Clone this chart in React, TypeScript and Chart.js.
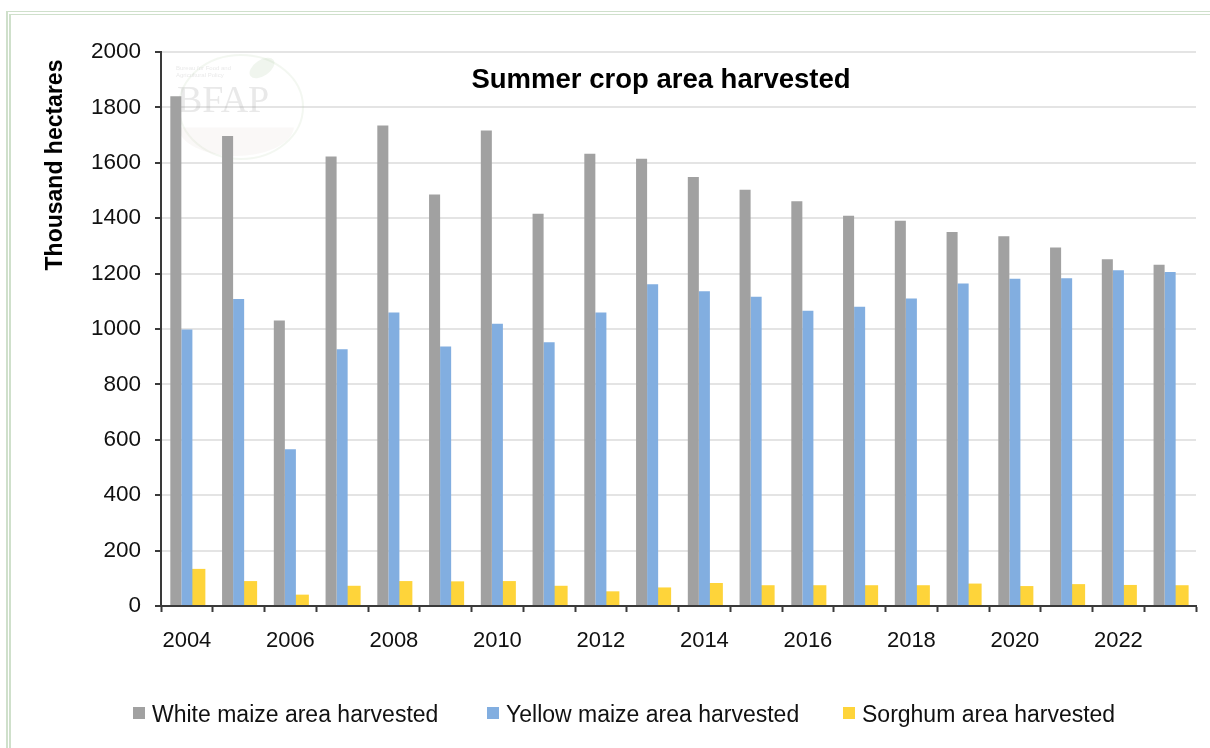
import React, { useEffect, useRef } from 'react';
import { Chart, registerables } from 'chart.js';

Chart.register(...registerables);

const years = ['2004', '2005', '2006', '2007', '2008', '2009', '2010', '2011', '2012', '2013', '2014', '2015', '2016', '2017', '2018', '2019', '2020', '2021', '2022', '2023'];
const whiteMaize = [1840, 1697, 1031, 1623, 1735, 1486, 1717, 1416, 1633, 1615, 1549, 1503, 1461, 1409, 1391, 1350, 1335, 1294, 1252, 1232];
const yellowMaize = [998, 1108, 566, 927, 1060, 937, 1019, 952, 1060, 1162, 1136, 1116, 1066, 1080, 1110, 1164, 1181, 1183, 1212, 1206];
const sorghum = [134, 90, 41, 73, 90, 89, 90, 73, 53, 67, 83, 75, 75, 75, 75, 81, 72, 79, 76, 75];

const seriesNames = ['White maize area harvested', 'Yellow maize area harvested', 'Sorghum area harvested'];
const seriesColors = ['#a1a1a1', '#82aee0', '#fed43a'];
const chartTitle = 'Summer crop area harvested';
const yAxisTitle = 'Thousand hectares';

const FONT = '"Liberation Sans", Arial, Helvetica, sans-serif';

const overlayPlugin = {
  id: 'overlay',
  beforeDatasetsDraw(chart: any) {
    const ctx = chart.ctx as CanvasRenderingContext2D;
    ctx.save();
    // faint watermark logo
    ctx.beginPath();
    ctx.ellipse(241, 107, 62, 52, 0, 0, Math.PI * 2);
    ctx.strokeStyle = 'rgba(200, 220, 190, 0.22)';
    ctx.lineWidth = 2;
    ctx.stroke();
    ctx.beginPath();
    ctx.ellipse(236, 126, 58, 30, 0, 0.05, Math.PI - 0.05);
    ctx.fillStyle = 'rgba(205, 195, 180, 0.11)';
    ctx.fill();
    ctx.beginPath();
    ctx.ellipse(262, 68, 14, 8, -0.6, 0, Math.PI * 2);
    ctx.fillStyle = 'rgba(160, 195, 150, 0.16)';
    ctx.fill();
    ctx.fillStyle = 'rgba(170, 170, 170, 0.26)';
    ctx.font = '38px "Liberation Serif", "DejaVu Serif", serif';
    ctx.textAlign = 'left';
    ctx.textBaseline = 'alphabetic';
    ctx.fillText('BFAP', 177, 112);
    ctx.font = '6px ' + FONT;
    ctx.fillText('Bureau for Food and', 176, 70);
    ctx.fillText('Agricultural Policy', 176, 77);
    ctx.restore();
  },
  afterDraw(chart: any) {
    const ctx = chart.ctx as CanvasRenderingContext2D;
    ctx.save();
    // title
    ctx.fillStyle = '#000';
    ctx.font = 'bold 27.5px ' + FONT;
    ctx.textAlign = 'center';
    ctx.textBaseline = 'middle';
    ctx.fillText(chartTitle, 661, 80);
    // y axis title
    ctx.save();
    ctx.translate(56, 165);
    ctx.rotate(-Math.PI / 2);
    ctx.font = 'bold 23px ' + FONT;
    ctx.fillText(yAxisTitle, 0, 0);
    ctx.restore();
    // legend
    const textX = [152, 506, 862];
    ctx.font = '23px ' + FONT;
    ctx.textAlign = 'left';
    ctx.textBaseline = 'middle';
    seriesNames.forEach((name, i) => {
      ctx.fillStyle = seriesColors[i];
      ctx.fillRect(textX[i] - 19, 707, 12, 12);
      ctx.fillStyle = '#111';
      ctx.fillText(name, textX[i], 716);
    });
    ctx.restore();
  },
};

export default function App() {
  const canvasRef = useRef<HTMLCanvasElement | null>(null);

  useEffect(() => {
    if (!canvasRef.current) return;
    const chart = new Chart(canvasRef.current, {
      type: 'bar',
      data: {
        labels: years,
        datasets: [
          { label: seriesNames[0], data: whiteMaize, backgroundColor: seriesColors[0], barPercentage: 1.0, categoryPercentage: 0.64 },
          { label: seriesNames[1], data: yellowMaize, backgroundColor: seriesColors[1], barPercentage: 1.0, categoryPercentage: 0.64 },
          { label: seriesNames[2], data: sorghum, backgroundColor: seriesColors[2], barPercentage: 1.35, categoryPercentage: 0.64 },
        ],
      },
      options: {
        responsive: false,
        animation: false,
        layout: { autoPadding: false, padding: { top: 52, right: 14, left: 0, bottom: 0 } },
        plugins: {
          legend: { display: false },
          title: { display: false },
          tooltip: { enabled: false },
        },
        scales: {
          x: {
            offset: true,
            grid: { display: true, drawOnChartArea: false, drawTicks: true, tickLength: 6, tickColor: '#3a3a3a', tickWidth: 2, offset: true },
            border: { display: true, color: '#3a3a3a', width: 2 },
            ticks: {
              autoSkip: false,
              maxRotation: 0,
              minRotation: 0,
              padding: 16,
              color: '#111',
              font: { family: FONT, size: 22 },
              callback: (_v: any, i: number) => (i % 2 === 0 ? years[i] : ''),
            },
            afterFit: (s: any) => { s.height = 142; },
          },
          y: {
            min: 0,
            max: 2000,
            ticks: { stepSize: 200, padding: 14, color: '#111', font: { family: FONT, size: 22.5 }, callback: (v: any) => String(v) },
            grid: { color: '#e4e4e4', lineWidth: 2, tickColor: '#3a3a3a', tickLength: 6, tickWidth: 2 },
            border: { display: true, color: '#3a3a3a', width: 2 },
            afterFit: (s: any) => { s.width = 161; },
          },
        },
      },
      plugins: [overlayPlugin],
    });
    return () => chart.destroy();
  }, []);

  return (
    <div style={{ position: 'fixed', left: 0, top: 0, width: 1210, height: 748, background: '#fff', overflow: 'hidden' }}>
      <div style={{ position: 'absolute', left: 6, top: 11, width: 1300, height: 900, borderTop: '4px double #cfe0cb', borderLeft: '5px double #cfe0cb', boxSizing: 'border-box' }} />
      <canvas ref={canvasRef} width={1210} height={748} style={{ position: 'absolute', left: 0, top: 0 }} />
    </div>
  );
}
